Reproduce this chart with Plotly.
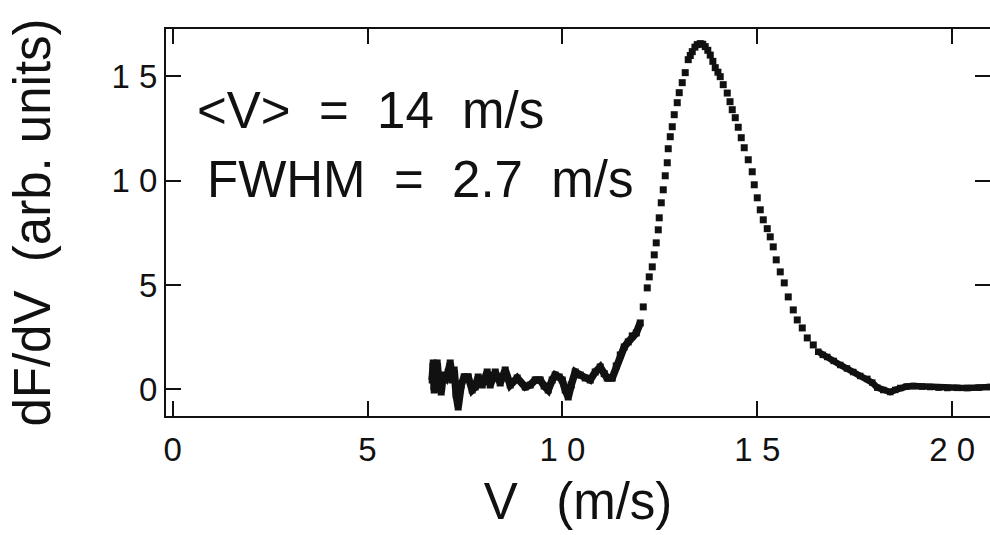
import plotly.graph_objects as go

# ---- data ----
v_noise = [6.659, 6.685, 6.710, 6.736, 6.787, 6.838, 6.890, 6.941, 7.018, 7.070,
           7.121, 7.172, 7.223, 7.275, 7.326, 7.403, 7.480, 7.583, 7.685, 7.762,
           7.839, 7.942, 8.070, 8.147, 8.276, 8.404, 8.532, 8.661, 8.840, 9.046,
           9.174, 9.302, 9.430, 9.533, 9.636, 9.738, 9.815, 9.918, 9.995, 10.072,
           10.149, 10.226, 10.329, 10.457, 10.585, 10.714, 10.842, 10.970, 11.073,
           11.150, 11.278, 11.381, 11.484, 11.587, 11.689, 11.792, 11.895, 11.997]
f_noise = [0.446, 1.262, -0.034, 0.830, 1.262, 0.206, -0.130, 0.686, 0.542, 0.830,
           1.262, 0.446, 0.926, -0.274, -0.849, 0.206, 0.590, 0.590, -0.034, 0.110,
           0.590, 0.206, 0.830, 0.206, 0.830, 0.302, 0.926, 0.206, 0.542, 0.110,
           0.206, 0.446, 0.446, 0.158, -0.034, 0.446, 0.686, 0.590, 0.446, -0.034,
           -0.369, 0.206, 0.830, 0.686, 0.542, 0.446, 0.830, 1.070, 0.750, 0.542,
           0.542, 1.118, 1.646, 2.030, 2.270, 2.558, 2.702, 3.181]

v_peak = [12.074, 12.177, 12.228, 12.305, 12.356, 12.407, 12.459, 12.484, 12.536,
          12.587, 12.638, 12.690, 12.715, 12.767, 12.818, 12.869, 12.946, 12.997,
          13.074, 13.151, 13.228, 13.280, 13.331, 13.400, 13.459, 13.536, 13.600,
          13.664, 13.730, 13.793, 13.860, 13.921, 13.990, 14.049, 14.126, 14.229,
          14.300, 14.357, 14.434, 14.511, 14.588, 14.665, 14.768, 14.870, 14.922,
          14.999, 15.076, 15.153, 15.255, 15.332, 15.409, 15.486, 15.589, 15.692,
          15.794, 15.923, 16.025, 16.154, 16.282, 16.436]
f_peak = [3.949, 4.861, 5.389, 5.869, 6.444, 7.020, 7.644, 8.220, 8.940,
          9.563, 10.235, 10.859, 11.531, 12.107, 12.586, 13.162, 13.738, 14.218,
          14.698, 15.178, 15.801, 16.000, 16.185, 16.400, 16.521, 16.569, 16.540,
          16.425, 16.250, 16.020, 15.720, 15.417, 15.200, 14.986, 14.602, 14.200,
          13.786, 13.402, 13.018, 12.560, 12.059, 11.579, 11.003, 10.427, 9.803,
          9.179, 8.603, 8.124, 7.700, 7.308, 6.828, 6.204, 5.628, 5.101,
          4.429, 3.805, 3.325, 2.941, 2.462, 2.126]

v_tail = [16.564, 16.680, 16.795, 16.960, 17.129, 17.300, 17.462, 17.640, 17.822,
          17.950, 18.078, 18.232, 18.412, 18.540, 18.668, 18.830, 19.002, 19.220,
          19.438, 19.650, 19.874, 20.130, 20.387, 20.680, 20.977]
f_tail = [1.800, 1.650, 1.550, 1.360, 1.166, 1.000, 0.830, 0.640, 0.500,
          0.320, 0.080, -0.034, -0.130, -0.030, 0.062, 0.130, 0.158, 0.130,
          0.110, 0.080, 0.062, 0.070, 0.062, 0.080, 0.110]

x_ticks = [0, 5, 10, 15, 20]
x_ticktext = ["0", "5", "1 0", "1 5", "2 0"]
y_ticks = [0, 5, 10, 15]
y_ticktext = ["0", "5", "1 0", "1 5"]

FONT = "Liberation Sans, Arial, Helvetica, sans-serif"
INK = "#111111"

fig = go.Figure()
fig.add_trace(go.Scatter(x=v_noise, y=f_noise, mode="lines+markers",
                         line=dict(color=INK, width=7.5),
                         marker=dict(symbol="square", size=7, color=INK),
                         showlegend=False, hoverinfo="skip"))
fig.add_trace(go.Scatter(x=v_peak, y=f_peak, mode="markers",
                         marker=dict(symbol="square", size=7, color=INK),
                         showlegend=False, hoverinfo="skip"))
fig.add_trace(go.Scatter(x=v_tail, y=f_tail, mode="lines+markers",
                         line=dict(color=INK, width=6.5),
                         marker=dict(symbol="square", size=6.5, color=INK),
                         showlegend=False, hoverinfo="skip"))

fig.add_annotation(x=0.58, y=13.35, xref="x", yref="y", xanchor="left", yanchor="middle",
                   text="&lt;V&gt;  =  14  m/s", showarrow=False,
                   font=dict(family=FONT, size=51, color=INK))
fig.add_annotation(x=0.82, y=10.05, xref="x", yref="y", xanchor="left", yanchor="middle",
                   text="FWHM  =  2.7  m/s", showarrow=False,
                   font=dict(family=FONT, size=51, color=INK))

fig.update_layout(
    width=990, height=535,
    margin=dict(l=166, r=0, t=29, b=119, autoexpand=False),
    paper_bgcolor="white", plot_bgcolor="white",
    font=dict(family=FONT, color=INK),
    xaxis=dict(range=[-0.17, 20.97], tickmode="array", tickvals=x_ticks, ticktext=x_ticktext,
               ticks="inside", ticklen=15, tickwidth=1.5, tickcolor=INK,
               showline=True, linecolor=INK, linewidth=2, mirror="ticks",
               showgrid=False, zeroline=False, automargin=False,
               tickfont=dict(family=FONT, size=33, color=INK), ticklabelstandoff=3,
               title=dict(text="V\u00a0\u00a0\u2009(m/s)", font=dict(family=FONT, size=51, color=INK),
                          standoff=17)),
    yaxis=dict(range=[-1.28, 17.27], tickmode="array", tickvals=y_ticks, ticktext=y_ticktext,
               ticks="inside", ticklen=15, tickwidth=1.5, tickcolor=INK,
               showline=True, linecolor=INK, linewidth=2, mirror="ticks",
               showgrid=False, zeroline=False, automargin=False,
               tickfont=dict(family=FONT, size=33, color=INK), ticklabelstandoff=0,
               title=dict(text="dF/dV\u00a0\u00a0(arb.\u00a0units)", font=dict(family=FONT, size=51, color=INK),
                          standoff=45)),
)

fig.write_html("out.html", config={"displayModeBar": False},
               post_script="document.body.style.margin='0';document.body.style.overflow='hidden';")
